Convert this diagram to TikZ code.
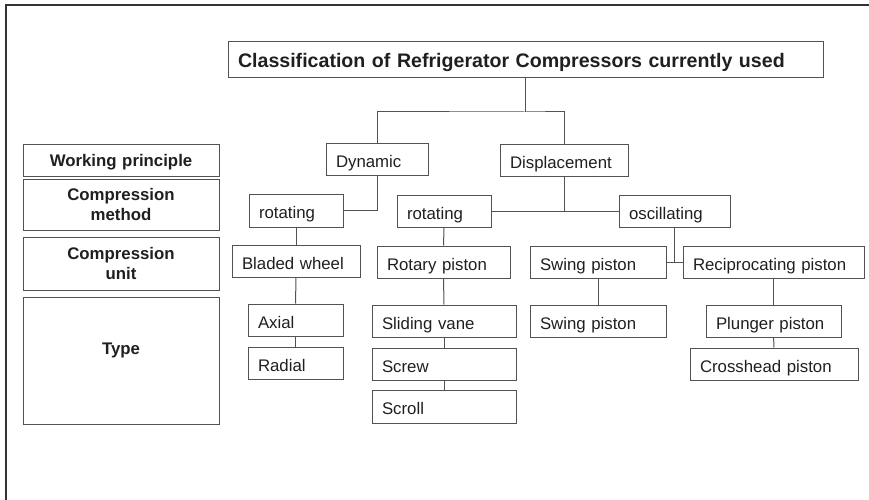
\documentclass[tikz,border=0pt]{standalone}
\usepackage{fontspec}
\setmainfont{Liberation Sans}
\begin{document}
\begin{tikzpicture}[x=1pt,y=-1pt,
  linecol/.style={draw=black!68},
  tbox/.style={linecol, line width=1pt, rectangle, inner xsep=10pt, inner ysep=0pt,
    align=left, text=black!88, text height=16pt, text depth=0pt,
    font=\fontsize{16.8}{20}\selectfont},
  lbox/.style={linecol, line width=1pt, rectangle, inner xsep=10pt, inner ysep=0pt,
    align=center, text=black!88, font=\fontsize{16.8}{20}\selectfont\bfseries},
  titlebox/.style={tbox, text height=15pt, font=\fontsize{19.6}{22}\selectfont\bfseries},
  link/.style={linecol, line width=1pt}]
\useasboundingbox (0,0) rectangle (869,500);

% a box given by its corners (x1,y1) and (x2,y2), in pixels
\newcommand\treebox[7][tbox]{%
  \pgfmathsetmacro\bxw{#5-#3}%
  \pgfmathsetmacro\bxh{#6-#4}%
  \pgfmathsetmacro\bxt{#5-#3-20}%
  \node[#1, minimum width=\bxw pt, minimum height=\bxh pt, text width=\bxt pt]
    (#2) at ({(#3+#5)/2},{(#4+#6)/2}) {#7};}

% outer frame: top and left edges
\draw[draw=black!80, line width=1.4pt] (6,500) -- (6,5) -- (869,5);

% title
\treebox[titlebox]{title}{228}{42}{823}{78}{Classification of Refrigerator Compressors currently used}

% level labels
\treebox[lbox, text height=13pt, text depth=0pt]{lwork}{23}{144}{219}{176}{Working principle}
\treebox[lbox]{lmeth}{23}{179}{219}{230}{Compression\\method}
\treebox[lbox]{lunit}{23}{237}{219}{290}{Compression\\unit}
\treebox[lbox, text height=12pt, text depth=25pt]{ltype}{23}{297}{219}{424}{Type}

% working principle
\treebox{dyn}{326}{143}{428}{175}{Dynamic}
\treebox{disp}{500}{144}{628}{176}{Displacement}

% compression method
\treebox{rotA}{249}{194}{343}{227}{rotating}
\treebox{rotB}{397}{195}{491}{227}{rotating}
\treebox{osc}{619}{195}{730}{227}{oscillating}

% compression unit
\treebox{blade}{232}{245}{360}{277}{Bladed wheel}
\treebox{rotp}{377}{246}{510}{278}{Rotary piston}
\treebox{swingA}{530}{246}{666}{278}{Swing piston}
\treebox{recip}{683}{246}{864}{278}{Reciprocating piston}

% types
\treebox{axial}{248}{304}{343}{336}{Axial}
\treebox{radial}{248}{347}{343}{379}{Radial}
\treebox{vane}{372}{305}{516}{337}{Sliding vane}
\treebox{screw}{372}{348}{516}{380}{Screw}
\treebox{scroll}{372}{390}{516}{423}{Scroll}
\treebox{swingB}{530}{305}{666}{337}{Swing piston}
\treebox{plunger}{706}{305}{841}{337}{Plunger piston}
\treebox{cross}{690}{348}{858}{380}{Crosshead piston}

% connectors
\coordinate (split) at (525,112);
\draw[link] (title.south -| split) -- (split);
\draw[link] (dyn.north) |- (split) -| (disp.north);
\draw[link] (dyn.south) |- (rotA.east);
\draw[link] (rotB.east) -- (osc.west);
\draw[link] (disp.south) -- (disp.south |- rotB.east);
\draw[link] (rotA) -- (blade);
\draw[link] (blade) -- (axial);
\draw[link] (axial) -- (radial);
\draw[link] (rotB) -- (rotp);
\draw[link] (rotp) -- (vane);
\draw[link] (vane) -- (screw);
\draw[link] (screw) -- (scroll);
\draw[link] (osc.south) -- (osc.south |- swingA.east);
\draw[link] (swingA.east) -- (recip.west);
\draw[link] (swingA) -- (swingB);
\draw[link] (recip) -- (plunger);
\draw[link] (plunger) -- (cross);
\end{tikzpicture}
\end{document}
